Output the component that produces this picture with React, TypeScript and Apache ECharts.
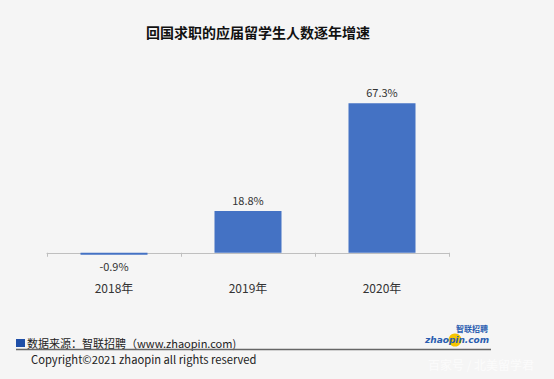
import React, { useEffect, useRef } from "react";
import * as echarts from "echarts";

const categories = ["2018年", "2019年", "2020年"];
const values = [-0.9, 18.8, 67.3];
const titleText = "回国求职的应届留学生人数逐年增速";
const sourceText = "数据来源：智联招聘（www.zhaopin.com)";
const copyrightText = "Copyright©2021 zhaopin all rights reserved";
const watermarkText = "百家号 / 北美留学君";

export default function App() {
  const ref = useRef<HTMLDivElement>(null);
  useEffect(() => {
    if (!ref.current) return;
    const chart = echarts.init(ref.current, null, { renderer: "svg" });
    const font = "'Noto Sans CJK SC', 'Noto Sans', sans-serif";
    chart.setOption({
      animation: false,
      backgroundColor: "#f5f5f5",
      textStyle: { fontFamily: font },
      title: {
        text: titleText,
        left: 253,
        textAlign: "center",
        top: 20,
        textStyle: { fontSize: 14, fontWeight: "bold", color: "#111", fontFamily: font },
      },
      grid: { left: 47, right: 105, top: 75, bottom: 104 },
      xAxis: {
        type: "category",
        data: categories,
        axisLine: { onZero: true, lineStyle: { color: "#bfbfbf", width: 1 } },
        axisTick: { show: true, alignWithLabel: false, length: 4, lineStyle: { color: "#bfbfbf" } },
        axisLabel: { margin: 6, fontSize: 12, color: "#333", fontFamily: font },
      },
      yAxis: {
        type: "value",
        min: -10,
        max: 80,
        show: false,
        splitLine: { show: false },
      },
      series: [
        {
          type: "bar",
          data: values.map((v) => ({
            value: v,
            label: { position: v < 0 ? "bottom" : "top" },
          })),
          barWidth: "50%",
          itemStyle: { color: "#4472c4" },
          label: {
            show: true,
            distance: 6,
            fontSize: 11,
            color: "#333",
            fontFamily: font,
            formatter: (p: any) => p.value + "%",
          },
        },
      ],
      graphic: [
        { type: "rect", shape: { x: 16, y: 339, width: 9, height: 8 }, style: { fill: "#1f4fa8" } },
        {
          type: "text",
          x: 27,
          y: 343,
          style: { text: sourceText, fontSize: 11, fill: "#222", verticalAlign: "middle", fontFamily: font },
        },
        { type: "line", shape: { x1: 16, y1: 349.5, x2: 491, y2: 349.5 }, style: { stroke: "#666", lineWidth: 1.5 } },
        {
          type: "text",
          x: 31,
          y: 359,
          style: { text: copyrightText, fontSize: 11.2, fill: "#222", verticalAlign: "middle", fontFamily: font },
        },
        { type: "circle", shape: { cx: 455, cy: 340, r: 6.5 }, style: { fill: "#f5c400" } },
        {
          type: "text",
          x: 425,
          y: 340,
          style: {
            text: "zhaopin.com",
            fontSize: 9,
            fontWeight: "bold",
            fontStyle: "italic",
            fill: "#2a5db0",
            verticalAlign: "middle",
            fontFamily: "'DejaVu Sans', sans-serif",
          },
        },
        {
          type: "text",
          x: 456,
          y: 328,
          style: {
            text: "智联招聘",
            fontSize: 8,
            fontWeight: "bold",
            fill: "#2a5db0",
            verticalAlign: "middle",
            fontFamily: font,
          },
        },
        {
          type: "text",
          x: 428,
          y: 364,
          style: { text: watermarkText, fontSize: 12, fill: "#ffffff", opacity: 0.7, verticalAlign: "middle", fontFamily: font },
        },
      ],
    });
    return () => chart.dispose();
  }, []);
  return (
    <div
      ref={ref}
      style={{ position: "fixed", left: 0, top: 0, width: 554, height: 379 }}
    />
  );
}
